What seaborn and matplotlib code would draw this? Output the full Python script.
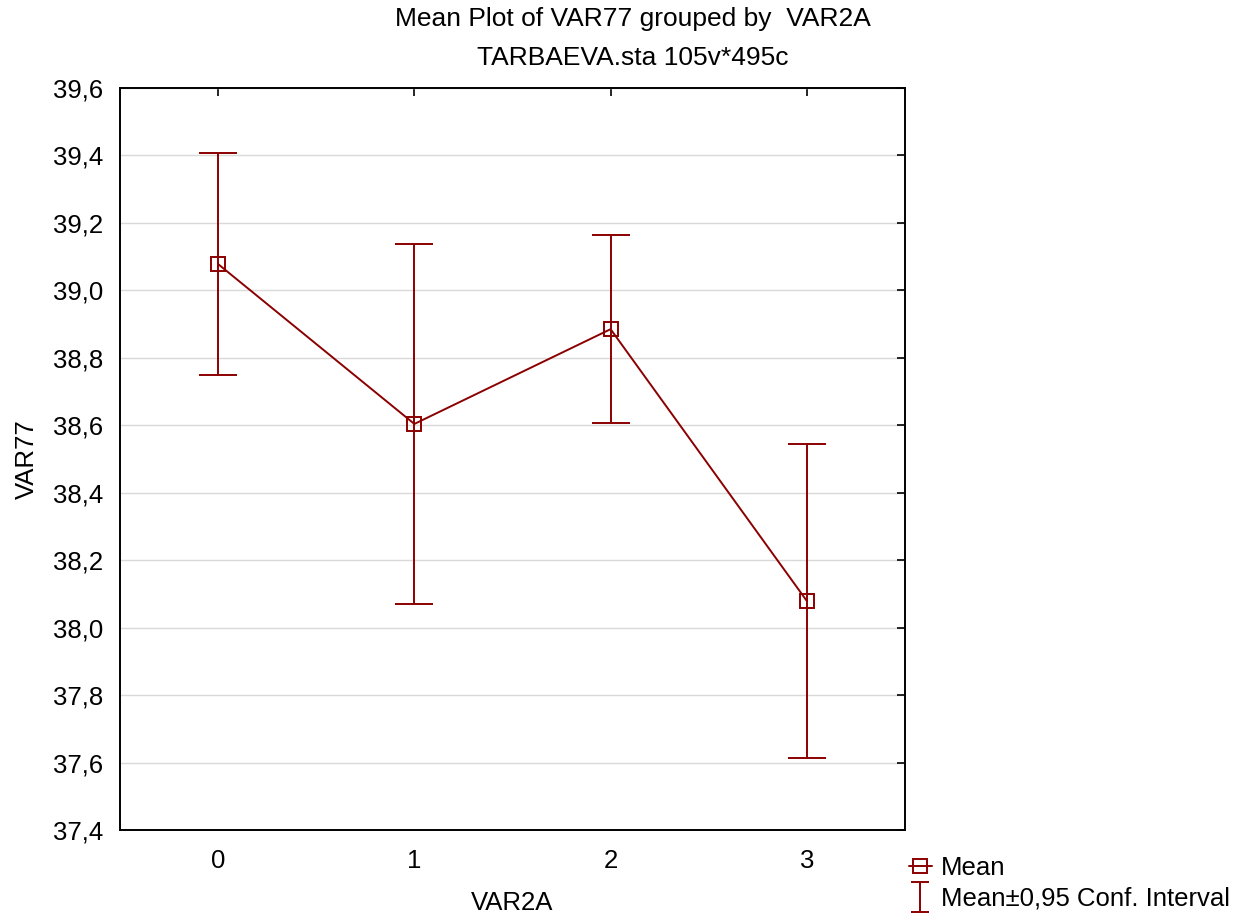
import matplotlib
matplotlib.use("Agg")
import matplotlib.pyplot as plt
import seaborn as sns
import pandas as pd
from matplotlib.lines import Line2D
from matplotlib.path import Path
from matplotlib.ticker import FuncFormatter, FixedLocator

categories = [0, 1, 2, 3]
means = [39.078, 38.604, 38.885, 38.079]
ci_upper = [39.406, 39.138, 39.165, 38.544]
ci_lower = [38.750, 38.071, 38.607, 37.613]
y_ticks = [37.4, 37.6, 37.8, 38.0, 38.2, 38.4, 38.6, 38.8, 39.0, 39.2, 39.4, 39.6]

sns.set_theme(style="white")
plt.rcParams['font.family'] = ['Liberation Sans', 'DejaVu Sans']
plt.rcParams['text.color'] = 'black'
plt.rcParams['axes.labelcolor'] = 'black'

color = '#8b0000'
df = pd.DataFrame({"VAR2A": categories, "VAR77": means,
                   "lo": ci_lower, "hi": ci_upper})

fig = plt.figure(figsize=(12.55, 9.15), dpi=100)
ax = fig.add_axes([0.0956, 0.0929, 0.6255, 0.8109])

sns.lineplot(data=df, x="VAR2A", y="VAR77", ax=ax, color=color, lw=1.4,
             marker='s', markersize=10, markerfacecolor='none',
             markeredgecolor=color, markeredgewidth=1.4, zorder=3)
ax.errorbar(df["VAR2A"], df["VAR77"],
            yerr=[df["VAR77"] - df["lo"], df["hi"] - df["VAR77"]],
            fmt='none', ecolor=color, elinewidth=1.4, capsize=14,
            capthick=1.4, zorder=2)

ax.set_xlim(-0.5, 3.5)
ax.set_ylim(37.4, 39.6)
ax.xaxis.set_major_locator(FixedLocator(categories))
ax.yaxis.set_major_locator(FixedLocator(y_ticks))
ax.yaxis.set_major_formatter(FuncFormatter(lambda v, p: f"{v:.1f}".replace('.', ',')))
ax.grid(axis='y', color='#d9d9d9', lw=1)
ax.set_axisbelow(True)
for s in ax.spines.values():
    s.set_color('black')
    s.set_linewidth(1.4)
ax.tick_params(axis='both', direction='in', length=6, width=1.2, colors='black',
               labelsize=18.5, top=True, right=True, pad=12)
ax.tick_params(axis='x', pad=14)

ax.set_xlabel("VAR2A", fontsize=18.5)
ax.set_ylabel("VAR77", fontsize=18.5)
ax.xaxis.set_label_coords(0.5, -0.082)
ax.yaxis.set_label_coords(-0.103, 0.5)
fig.text(0.504, 0.979, "Mean Plot of VAR77 grouped by  VAR2A",
         ha='center', va='center', fontsize=19)
fig.text(0.504, 0.937, "TARBAEVA.sta 105v*495c",
         ha='center', va='center', fontsize=19)

ibeam = Path([(-0.6, -1), (0.6, -1), (0, -1), (0, 1), (-0.6, 1), (0.6, 1)],
             [Path.MOVETO, Path.LINETO, Path.MOVETO, Path.LINETO, Path.MOVETO, Path.LINETO])
mean_handle = Line2D([], [], color=color, lw=1.4, marker='s', markersize=10,
                     markerfacecolor='none', markeredgecolor=color, markeredgewidth=1.4)
ci_handle = Line2D([], [], color=color, ls='none', marker=ibeam, markersize=21,
                   markeredgecolor=color, markeredgewidth=1.4)
fig.legend([mean_handle, ci_handle], ["Mean", "Mean\u00b10,95 Conf. Interval"],
           loc='upper left', bbox_to_anchor=(0.724, 0.064), frameon=False,
           fontsize=18.5, handlelength=0.9, handletextpad=0.35, labelspacing=0.25,
           borderaxespad=0, borderpad=0)

fig.savefig("out.png", dpi=100)
